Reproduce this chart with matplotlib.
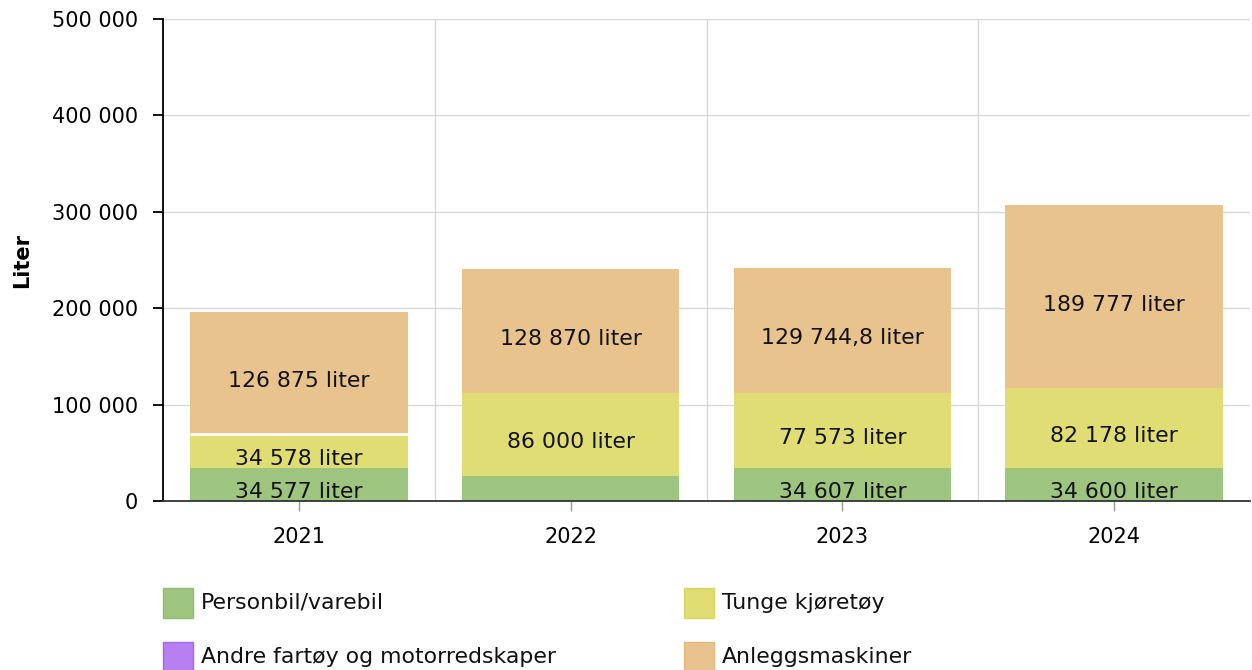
import matplotlib
matplotlib.use("Agg")
import matplotlib.pyplot as plt
from matplotlib.patches import Rectangle
import numpy as np

# data (liter)
years = ["2021", "2022", "2023", "2024"]
personbil = [34577, 26000, 34607, 34600]
tunge = [34578, 86000, 77573, 82178]
andre = [0, 0, 0, 0]
anlegg = [126875, 128870, 129744.8, 189777]
y_ticks = [0, 100000, 200000, 300000, 400000, 500000]

series_names = ["Personbil/varebil", "Tunge kjøretøy",
                "Andre fartøy og motorredskaper", "Anleggsmaskiner"]
fill_colors = ["#9dc57f", "#dfdd74", "#b77ff0", "#e9c38e"]
edge_colors = ["#8fbd6c", "#d8d55c", "#a865ec", "#e6b87a"]

plt.rcParams["font.family"] = ["DejaVu Sans"]
FS = 15
FS_TXT = 15.8


def fmt(v):
    if float(v).is_integer():
        s = f"{int(v):,}".replace(",", " ")
    else:
        s = f"{v:,.1f}".replace(",", " ").replace(".", ",")
    return s


fig = plt.figure(figsize=(12.52, 6.7), dpi=100)
ax = fig.add_axes([163 / 1252, 1 - 501 / 670, 1087 / 1252, 482 / 670])

x = np.arange(len(years))
bottom = np.zeros(len(years))
all_series = [personbil, tunge, andre, anlegg]
for vals, col in zip(all_series, fill_colors):
    vals = np.asarray(vals, dtype=float)
    ax.bar(x, vals, width=0.8, bottom=bottom, color=col, linewidth=0, zorder=2)
    for xi, b, v in zip(x, bottom, vals):
        if v > 30000:
            ax.annotate(f"{fmt(v)} liter", (xi, b + v / 2), xytext=(0, -5.5),
                        textcoords="offset points", ha="center", va="center",
                        fontsize=FS_TXT, color="#111111", zorder=4)
    bottom += vals

# thin white gap above the truck segment in 2021
gap_y = personbil[0] + tunge[0]
ax.hlines(gap_y, -0.4, 0.4, color="white", linewidth=2, zorder=3)

ax.set_xlim(-0.5, len(years) - 0.5)
ax.set_ylim(0, 500000)
ax.set_yticks(y_ticks)
ax.set_yticklabels([fmt(t) for t in y_ticks], fontsize=FS)
ax.set_xticks(x)
ax.set_xticklabels(years, fontsize=FS)

# grid: horizontal at ticks, vertical at category boundaries
for t in y_ticks[1:]:
    ax.axhline(t, color="#d9d9d9", linewidth=1, zorder=0)
for b in np.arange(0.5, len(years) - 0.5, 1):
    ax.axvline(b, color="#d9d9d9", linewidth=1, zorder=0)

for s in ["top", "right"]:
    ax.spines[s].set_visible(False)
ax.spines["left"].set_color("black")
ax.spines["left"].set_linewidth(1.3)
ax.spines["bottom"].set_color("#333333")
ax.spines["bottom"].set_linewidth(1.3)
ax.tick_params(axis="y", length=7, width=1.3, color="black", pad=11)
ax.tick_params(axis="x", length=7, width=1, color="#999999", pad=12)

ax.set_ylabel("Liter", fontsize=FS, fontweight="bold", labelpad=14)

# legend, two columns
leg_cols = [163, 684]
leg_rows = [603, 657]
for i, (name, fc, ec) in enumerate(zip(series_names, fill_colors, edge_colors)):
    cx = leg_cols[i % 2]
    cy = leg_rows[i // 2]
    fig.patches.append(Rectangle((cx / 1252, 1 - (cy + 15) / 670), 30 / 1252, 30 / 670,
                                 transform=fig.transFigure, facecolor=fc,
                                 edgecolor=ec, linewidth=1))
    fig.text((cx + 38) / 1252, 1 - cy / 670, name, fontsize=FS_TXT,
             va="center", ha="left", color="#111111")

fig.savefig("out.png", dpi=100)
